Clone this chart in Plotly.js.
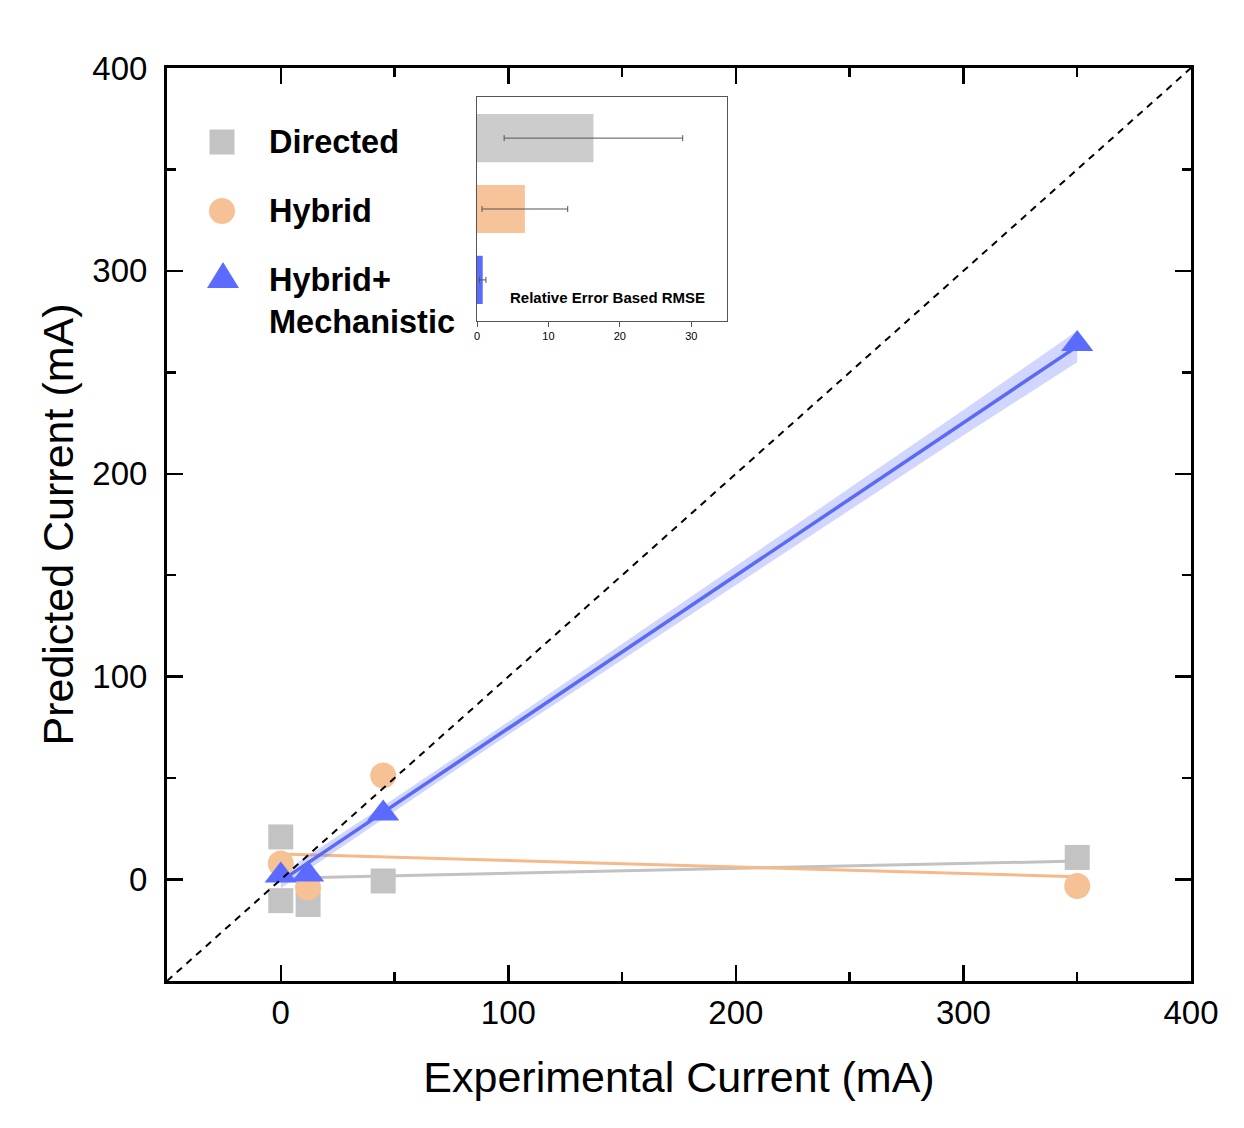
<!DOCTYPE html>
<html>
<head>
<meta charset="utf-8">
<script src="https://cdn.plot.ly/plotly-3.0.1.min.js"></script>
<style>html,body{margin:0;padding:0;background:#fff;}#chart{width:1244px;height:1128px;}</style>
</head>
<body>
<div id="chart"></div>
<script>
// ---- data ----
const directedX = [0, 0, 12, 45, 350];
const directedY = [21, -10.4, -12.3, -0.7, 10.9];
const hybridX = [0, 12, 45, 350];
const hybridY = [7.9, -4.0, 51.3, -3.2];
const mechX = [0, 12, 45, 350];
const mechY = [2, 2.5, 32.5, 264];

const fitX = [0, 350];
const directedFit = [0.7, 9.1];
const hybridFit = [12.6, 1.4];
const mechFit = [-0.75, 262.8];

const bandX = [0, 45, 100, 200, 300, 350];
const bandUpper = [2.8, 36.3, 77.8, 154.4, 231.4, 270.5];
const bandLower = [-4.3, 29.9, 71.4, 145.4, 219.0, 255.0];

const diagX = [-50, 400];
const diagY = [-50, 400];

const models = ['Directed', 'Hybrid', 'Hybrid+Mechanistic'];
const rmse = [16.3, 6.7, 0.8];
const rmseErr = [12.5, 6.0, 0.45];

const legendLabels = ['Directed', 'Hybrid', 'Hybrid+<br>Mechanistic'];

// ---- styles ----
const FONT = 'Liberation Sans, Arial, sans-serif';
const cGray = '#c3c3c3', cGrayLine = '#c2c2c2';
const cOrange = '#f7c196', cOrangeLine = '#f5b98a';
const cBlue = '#5b6bff', cBlueLine = '#5a6af5';

const W = 1244, H = 1128;
const M = {l: 167, r: 53, t: 68, b: 147};
const PW = W - M.l - M.r, PH = H - M.t - M.b;
const px = x => (x - M.l) / PW;
const py = y => (H - M.b - y) / PH;

const traces = [
  {x: fitX, y: directedFit, mode: 'lines', line: {color: cGrayLine, width: 3}, hoverinfo: 'skip', showlegend: false},
  {x: fitX, y: hybridFit, mode: 'lines', line: {color: cOrangeLine, width: 3}, hoverinfo: 'skip', showlegend: false},
  {x: bandX.concat(bandX.slice().reverse()), y: bandUpper.concat(bandLower.slice().reverse()),
   mode: 'lines', fill: 'toself', fillcolor: 'rgba(91,107,255,0.28)', line: {width: 0}, hoverinfo: 'skip', showlegend: false},
  {x: fitX, y: mechFit, mode: 'lines', line: {color: cBlueLine, width: 3.5}, hoverinfo: 'skip', showlegend: false},
  {x: directedX, y: directedY, mode: 'markers', name: 'Directed', marker: {symbol: 'square', size: 25, color: cGray}, showlegend: false},
  {x: hybridX, y: hybridY, mode: 'markers', name: 'Hybrid', marker: {symbol: 'circle', size: 26, color: cOrange}, showlegend: false},
  {x: mechX, y: mechY, mode: 'markers', name: 'Hybrid+Mechanistic', marker: {symbol: 'triangle-up', size: 28, color: cBlue}, showlegend: false},
  {x: diagX, y: diagY, mode: 'lines', line: {color: '#000', width: 2, dash: '7px,6px'}, hoverinfo: 'skip', showlegend: false},
  // inset bars
  {type: 'bar', orientation: 'h', y: models, x: rmse, xaxis: 'x2', yaxis: 'y2', width: 0.68,
   marker: {color: ['#cccccc', '#f7c49a', cBlue], line: {width: 0}},
   error_x: {type: 'data', array: rmseErr, visible: true, color: '#555', thickness: 1, width: 3},
   showlegend: false}
];

const axCommon = {
  showline: true, linecolor: '#000', linewidth: 3, mirror: 'ticks',
  ticks: 'inside', ticklen: 16, tickwidth: 2.5, tickcolor: '#000',
  showgrid: false, zeroline: false,
  tickfont: {family: FONT, size: 33, color: '#000'},
  tick0: 0, dtick: 100,
  minor: {ticks: 'inside', ticklen: 9, tickwidth: 2.5, tickcolor: '#000', dtick: 50, tick0: 0, showgrid: false}
};

// legend (drawn as shapes + annotations)
const sq = 12.5, cr = 13;
const shapes = [
  {type: 'rect', xref: 'paper', yref: 'paper', x0: px(222 - sq), x1: px(222 + sq), y0: py(142 + sq), y1: py(142 - sq),
   fillcolor: cGray, line: {width: 0}},
  {type: 'circle', xref: 'paper', yref: 'paper', x0: px(222 - cr), x1: px(222 + cr), y0: py(211 + cr), y1: py(211 - cr),
   fillcolor: cOrange, line: {width: 0}},
  {type: 'path', xref: 'paper', yref: 'paper',
   path: 'M ' + px(207) + ' ' + py(288) + ' L ' + px(239) + ' ' + py(288) + ' L ' + px(223) + ' ' + py(262) + ' Z',
   fillcolor: cBlue, line: {width: 0}}
];

const legY = [142, 211, 300.5];
const annotations = legendLabels.map((t, i) => ({
  xref: 'paper', yref: 'paper', x: px(267), y: py(legY[i]), xanchor: 'left', yanchor: 'middle',
  text: '<b>' + t + '</b>', showarrow: false, align: 'left',
  font: {family: FONT, size: 32.5, color: '#000'}
}));
annotations.push({
  xref: 'paper', yref: 'paper', x: px(607), y: py(297), xanchor: 'center', yanchor: 'middle',
  text: '<b>Relative Error Based RMSE</b>', showarrow: false,
  font: {family: FONT, size: 15, color: '#000'}
});

const layout = {
  width: W, height: H,
  margin: {l: M.l, r: M.r, t: M.t, b: M.b, pad: 0},
  paper_bgcolor: '#fff', plot_bgcolor: '#fff',
  font: {family: FONT, color: '#000'},
  xaxis: Object.assign({}, axCommon, {
    range: [-50, 400],
    title: {text: 'Experimental Current (mA)', font: {family: FONT, size: 43, color: '#000'}, standoff: 33}
  }),
  yaxis: Object.assign({}, axCommon, {
    range: [-50, 400], ticklabelstandoff: 10,
    title: {text: 'Predicted Current (mA)', font: {family: FONT, size: 43, color: '#000'}, standoff: 6}
  }),
  xaxis2: {
    domain: [px(477), px(727)], anchor: 'y2', range: [0, 35], dtick: 10, tick0: 0,
    showline: true, linecolor: '#555', linewidth: 1, mirror: true,
    ticks: 'outside', ticklen: 5, tickwidth: 1, tickcolor: '#555',
    showgrid: false, zeroline: false,
    tickfont: {family: FONT, size: 11, color: '#000'}
  },
  yaxis2: {
    domain: [py(321), py(97)], anchor: 'x2', type: 'category', range: [2.58, -0.58],
    showline: true, linecolor: '#555', linewidth: 1, mirror: true,
    ticks: '', showticklabels: false, showgrid: false, zeroline: false
  },
  shapes: shapes,
  annotations: annotations,
  showlegend: false
};

Plotly.newPlot('chart', traces, layout, {displayModeBar: false, staticPlot: true});
</script>
</body>
</html>
